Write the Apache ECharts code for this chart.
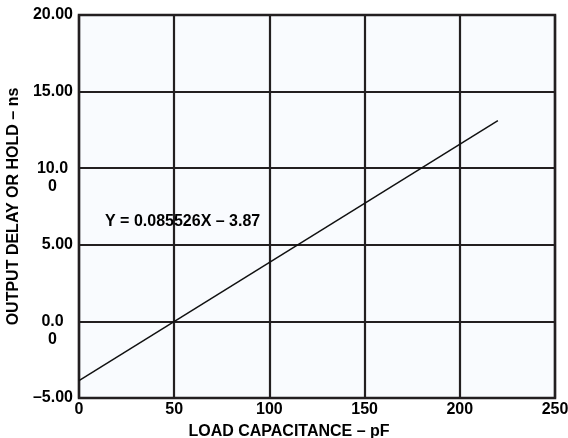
<!DOCTYPE html>
<html>
<head>
<meta charset="utf-8">
<script src="https://cdn.jsdelivr.net/npm/echarts@6/dist/echarts.min.js"></script>
<style>
  html, body { margin: 0; padding: 0; background: #ffffff; }
  #chart { width: 568px; height: 438px; }
</style>
</head>
<body>
<div id="chart"></div>
<script>
// Output delay/hold versus load capacitance
const loadCapacitance = [0, 220];          // pF
const delayValues = [-3.87, 13.1];         // ns
const xTicks = [0, 50, 100, 150, 200, 250];
const yTickLabels = {
  '-5': '–5.00',
  '0': '0.0\n0',
  '5': '5.00',
  '10': '10.0\n0',
  '15': '15.00',
  '20': '20.00'
};
const fitLabel = 'Y = 0.085526X – 3.87';

const ink = '#231f20';
const font = 'Liberation Sans, Arial, Helvetica, sans-serif';
const fs = 16;

const chart = echarts.init(document.getElementById('chart'), null, { renderer: 'canvas' });

function yLabel(v) {
  const s = yTickLabels[String(v)];
  if (s === undefined) return '';
  if (s.indexOf('\n') >= 0) {
    const parts = s.split('\n');
    return '{d| }\n{d|' + parts[0] + '}\n{d|' + parts[1] + '}';
  }
  return '{v|' + s + '}';
}

chart.setOption({
  animation: false,
  backgroundColor: '#ffffff',
  grid: {
    left: 79, right: 13, top: 15, bottom: 40,
    outerBoundsMode: 'none',
    containLabel: false,
    show: true,
    backgroundColor: '#f9fbfe',
    borderColor: ink,
    borderWidth: 2.5
  },
  xAxis: {
    type: 'value',
    min: 0, max: 250, interval: 50,
    axisLine: { show: false },
    axisTick: { show: false },
    splitLine: { show: true, lineStyle: { color: ink, width: 2.2 } },
    axisLabel: {
      margin: 4,
      color: '#000',
      fontFamily: font,
      fontWeight: 'bold',
      fontSize: fs,
      formatter: function (v) { return xTicks.indexOf(v) >= 0 ? String(v) : ''; }
    },
    name: 'LOAD CAPACITANCE – pF',
    nameLocation: 'middle',
    nameGap: 26,
    nameTextStyle: {
      color: '#000',
      fontFamily: font,
      fontWeight: 'bold',
      fontSize: fs,
      padding: [0, 56, 0, 0]
    }
  },
  yAxis: {
    type: 'value',
    min: -5, max: 20, interval: 5,
    axisLine: { show: false },
    axisTick: { show: false },
    splitLine: { show: true, lineStyle: { color: ink, width: 2.2 } },
    axisLabel: {
      margin: 6,
      color: '#000',
      fontFamily: font,
      fontWeight: 'bold',
      fontSize: fs,
      formatter: yLabel,
      rich: {
        v: { fontFamily: font, fontWeight: 'bold', fontSize: fs, color: '#000', lineHeight: 18 },
        d: { fontFamily: font, fontWeight: 'bold', fontSize: fs, color: '#000', lineHeight: 18,
             width: 31, align: 'center', padding: [0, 5, 0, 0] }
      }
    },
    name: 'OUTPUT DELAY OR HOLD – ns',
    nameLocation: 'middle',
    nameGap: 51,
    nameTextStyle: {
      color: '#000',
      fontFamily: font,
      fontWeight: 'bold',
      fontSize: fs
    }
  },
  series: [{
    type: 'line',
    data: loadCapacitance.map((x, i) => [x, delayValues[i]]),
    showSymbol: false,
    lineStyle: { color: '#111', width: 1.5 },
    z: 5
  }],
  graphic: [{
    type: 'text',
    left: 105,
    top: 214,
    style: {
      text: fitLabel,
      fill: '#000',
      font: 'bold ' + fs + 'px ' + font
    },
    z: 10
  }]
});
</script>
</body>
</html>
